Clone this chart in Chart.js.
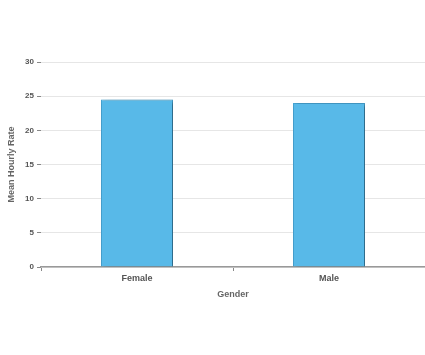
<!DOCTYPE html>
<html>
<head>
<meta charset="utf-8">
<script src="https://cdn.jsdelivr.net/npm/chart.js@4"></script>
<style>
html,body{margin:0;padding:0;background:#fff;}
#wrap{width:425px;height:355px;position:relative;}
</style>
</head>
<body>
<div id="wrap"><canvas id="c" width="425" height="355"></canvas></div>
<script>
const categories = ["Female", "Male"];
const meanHourlyRate = [24.5, 24.0];
const yTicks = [0, 5, 10, 15, 20, 25, 30];
const xTitle = "Gender";
const yTitle = "Mean Hourly Rate";

const shadowPlugin = {
  id: 'barShadow',
  beforeDatasetsDraw(chart) {
    const ctx = chart.ctx;
    ctx.save();
    ctx.shadowColor = 'rgba(0,0,0,0.45)';
    ctx.shadowBlur = 4;
    ctx.shadowOffsetX = 1.5;
    ctx.shadowOffsetY = 1;
  },
  afterDatasetsDraw(chart) {
    chart.ctx.restore();
  }
};

new Chart(document.getElementById('c'), {
  type: 'bar',
  data: {
    labels: categories,
    datasets: [{
      data: meanHourlyRate,
      backgroundColor: '#58b9e8',
      borderColor: '#48a6d6',
      borderWidth: 1,
      categoryPercentage: 1,
      barPercentage: 0.375
    }]
  },
  plugins: [shadowPlugin],
  options: {
    responsive: false,
    animation: false,
    devicePixelRatio: 1,
    layout: { padding: { top: 62, right: 0, bottom: 55, left: 0 } },
    plugins: { legend: { display: false }, tooltip: { enabled: false } },
    scales: {
      x: {
        offset: true,
        grid: { display: true, drawOnChartArea: false, offset: true, tickLength: 4, color: '#888', tickColor: '#888' },
        border: { display: true, color: '#999', width: 1.5 },
        ticks: { color: '#555', font: { family: 'Liberation Sans, Arial, sans-serif', size: 9, weight: 'bold' }, padding: 2 },
        title: { display: true, text: xTitle, color: '#666', font: { family: 'Liberation Sans, Arial, sans-serif', size: 9, weight: 'bold' }, padding: { top: 6, bottom: 0 } },
        afterFit(scale) { scale.height = 33; }
      },
      y: {
        min: 0, max: 30,
        afterBuildTicks(scale) { scale.ticks = yTicks.map(v => ({ value: v })); },
        grid: { color: '#e6e6e6', tickColor: '#888', tickLength: 4, lineWidth: 1 },
        border: { display: false },
        ticks: { color: '#555', font: { family: 'Liberation Sans, Arial, sans-serif', size: 8, weight: 'bold' }, padding: 3 },
        title: { display: true, text: yTitle, color: '#666', font: { family: 'Liberation Sans, Arial, sans-serif', size: 9, weight: 'bold' }, padding: { top: 6, bottom: 2 } },
        afterFit(scale) { scale.width = 41; }
      }
    }
  }
});
</script>
</body>
</html>
